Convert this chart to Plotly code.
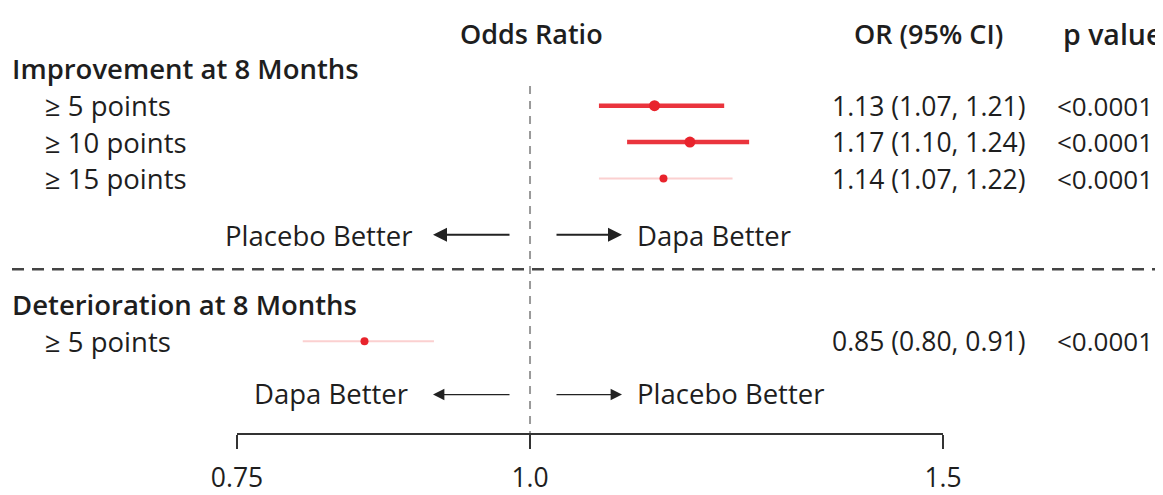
import plotly.graph_objects as go

# ---- data ----
row_labels = ["≥ 5 points", "≥ 10 points", "≥ 15 points", "≥ 5 points"]
odds_ratio = [1.13, 1.17, 1.14, 0.85]
ci_low = [1.07, 1.10, 1.07, 0.80]
ci_high = [1.21, 1.24, 1.22, 0.91]
ci_text = ["1.13 (1.07, 1.21)", "1.17 (1.10, 1.24)", "1.14 (1.07, 1.22)", "0.85 (0.80, 0.91)"]
p_values = ["<0.0001", "<0.0001", "<0.0001", "<0.0001"]
section_titles = ["Improvement at 8 Months", "Deterioration at 8 Months"]
tick_vals = [0.75, 1.0, 1.5]
tick_text = ["0.75", "1.0", "1.5"]

# ---- layout / style ----
OFF = 8                    # page body margin offset
W, H = 1163 - OFF, 495 - OFF
DY = 1
AXIS_Y = 439 + DY
FONT = "Open Sans"
TXT = "#1e1e1e"
row_y = [106 + DY, 143 + DY, 180 + DY, 345 + DY]   # y axis in window pixel units
strong = [True, True, False, False]
RED = "#e8232c"
PINK = "#fbd0d0"

def px(x):
    return (x - OFF) / W

fig = go.Figure()

for i in range(len(odds_ratio)):
    lc = "rgba(232,35,44,0.92)" if strong[i] else PINK
    lw = 4.5 if strong[i] else 2
    fig.add_trace(go.Scatter(
        x=[ci_low[i], ci_high[i]], y=[row_y[i], row_y[i]], mode="lines",
        line=dict(color=lc, width=lw), showlegend=False, hoverinfo="skip", cliponaxis=False))
    fig.add_trace(go.Scatter(
        x=[odds_ratio[i]], y=[row_y[i]], mode="markers",
        marker=dict(color=RED, size=11 if strong[i] else 8, line=dict(width=0)),
        showlegend=False, cliponaxis=False))

ann = []
def text(x, y, s, size=27, anchor="left", weight=400, color=TXT):
    ann.append(dict(x=px(x), y=y + DY, xref="paper", yref="y", text=s, showarrow=False,
                    xanchor=anchor, yanchor="middle",
                    font=dict(family=FONT, size=size, color=color, weight=weight)))

# headers
text(531, 33, "Odds Ratio", 27, "center", 600)
text(928, 33, "OR (95% CI)", 27, "center", 600)
text(1061, 33, "p value", 28.5, "left", 600)
# section titles
text(10, 68, section_titles[0], 27.5, "left", 600)
text(10, 308, section_titles[1], 27.5, "left", 600)
# rows
for i in range(len(row_labels)):
    text(43, row_y[i] - DY, row_labels[i], 27.5, "left", 400)
    text(1028, row_y[i] - DY, ci_text[i], 26.5, "right", 400)
    text(1055, row_y[i] - DY, p_values[i], 26, "left", 400)

# direction labels
text(414, 238, "Placebo Better", 27.5, "right", 400)
text(635, 238, "Dapa Better", 27.5, "left", 400)
text(410, 398, "Dapa Better", 27.5, "right", 400)
text(635, 398, "Placebo Better", 27.5, "left", 400)

def arrow(x_tip, x_tail, y, width, size):
    ann.append(dict(x=px(x_tip), y=y + DY, xref="paper", yref="y", text="",
                    showarrow=True, arrowhead=2, arrowsize=size,
                    arrowwidth=width, arrowcolor="#222",
                    ax=x_tail - x_tip, ay=0, axref="pixel", ayref="pixel"))

arrow(433, 511, 237, 2, 1.4)
arrow(622, 555, 237, 2, 1.4)
arrow(433, 511, 399, 1.2, 1.9)
arrow(622, 555, 399, 1.2, 1.9)

shapes = [
    # vertical reference line at OR = 1
    dict(type="line", xref="x", yref="y", x0=1.0, x1=1.0, y0=86 + DY, y1=AXIS_Y,
         line=dict(color="#9a9a9a", width=2, dash="8px,7px")),
    # separator
    dict(type="line", xref="paper", yref="y", x0=px(12), x1=1.0, y0=272 + DY, y1=272 + DY,
         line=dict(color="#444", width=2.5, dash="12px,8px")),
    # axis line
    dict(type="line", xref="x", yref="paper", x0=tick_vals[0], x1=tick_vals[-1], y0=0, y1=0,
         line=dict(color="#333", width=2)),
]

fig.update_layout(
    width=W, height=H,
    margin=dict(l=0, r=0, t=0, b=H - (AXIS_Y - OFF)),
    paper_bgcolor="white", plot_bgcolor="white",
    annotations=ann, shapes=shapes,
    xaxis=dict(type="log", range=[-0.22258, 0.26989], showgrid=False, zeroline=False,
               showline=False, tickvals=tick_vals, ticktext=tick_text, ticks="outside",
               ticklen=14, tickwidth=2, tickcolor="#333", ticklabelstandoff=6,
               tickfont=dict(family=FONT, size=26.5, color=TXT)),
    yaxis=dict(range=[AXIS_Y, OFF], visible=False, showgrid=False, zeroline=False),
    showlegend=False,
)

fig.write_html("out.html")
